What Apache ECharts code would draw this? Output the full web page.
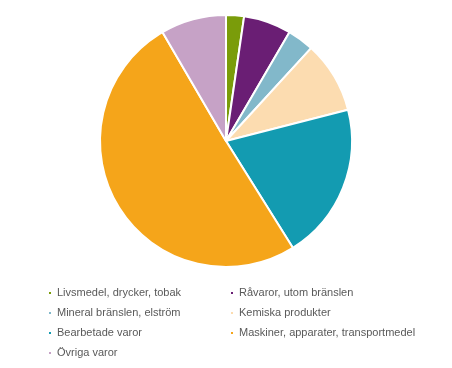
<!DOCTYPE html>
<html><head><meta charset="utf-8">
<script src="https://cdn.jsdelivr.net/npm/echarts@6/dist/echarts.min.js"></script>
<style>html,body{margin:0;padding:0;background:#fff}#c{width:452px;height:368px}</style>
</head><body><div id="c"></div>
<script>
const categories = ["Livsmedel, drycker, tobak","Råvaror, utom bränslen","Mineral bränslen, elström","Kemiska produkter","Bearbetade varor","Maskiner, apparater, transportmedel","Övriga varor"];
const values = [2.3, 6.1, 3.4, 9.2, 20.1, 50.5, 8.4];
const colors = ["#7a9c0a","#6a1e74","#82b8ca","#fcdcb0","#139bb1","#f5a51a","#c6a2c6"];
const leftCol = [0,2,4,6].map(i=>categories[i]);
const rightCol = [1,3,5].map(i=>categories[i]);
const chart = echarts.init(document.getElementById('c'));
const legendCommon = {orient:'vertical', top:287, padding:0, itemWidth:4, itemHeight:4, itemGap:8, icon:'rect',
  textStyle:{fontFamily:'Liberation Sans, Arial, sans-serif', fontSize:11, color:'#595959', lineHeight:12}};
chart.setOption({
  animation:false,
  color: colors,
  legend:[
    Object.assign({left:47, data:leftCol}, legendCommon),
    Object.assign({left:229, data:rightCol}, legendCommon)
  ],
  series:[{
    type:'pie', center:[226,141], radius:[0,126], startAngle:90, clockwise:true,
    label:{show:false}, labelLine:{show:false},
    itemStyle:{borderColor:'#fff', borderWidth:2},
    emphasis:{disabled:true},
    data: categories.map((c,i)=>({name:c, value:values[i]}))
  }]
});
</script></body></html>
